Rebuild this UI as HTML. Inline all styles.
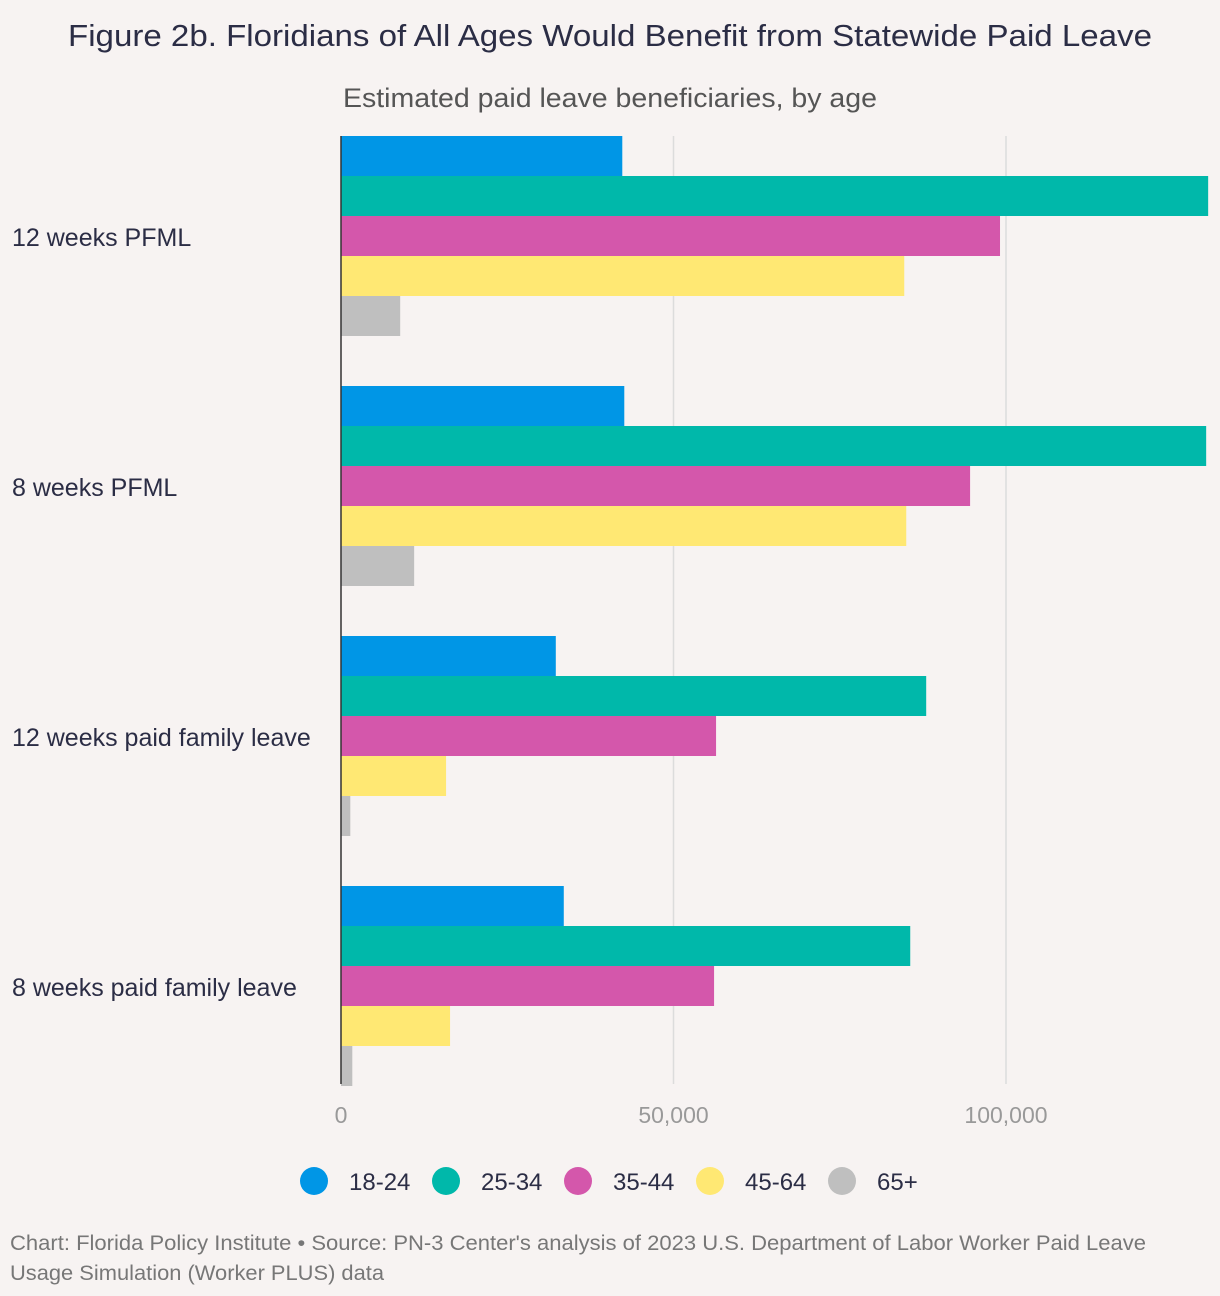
<!DOCTYPE html>
<html><head><meta charset="utf-8"><style>
body{margin:0;background:#f7f3f2;font-family:"Liberation Sans",sans-serif;}
svg{display:block}
</style></head><body>
<svg id="c" width="1220" height="1296">
<text x="68" y="46" font-size="31" textLength="1084" lengthAdjust="spacingAndGlyphs" fill="#2b2d45">Figure 2b. Floridians of All Ages Would Benefit from Statewide Paid Leave</text>
<text x="343" y="107" font-size="27" textLength="534" lengthAdjust="spacingAndGlyphs" fill="#555">Estimated paid leave beneficiaries, by age</text>
<g id="grid"></g><g id="bars"></g><g id="cats"></g><g id="ticks"></g><g id="legend"></g>
<line x1="341" y1="136" x2="341" y2="1084" stroke="#333" stroke-width="1.5"/>
<text x="10" y="1250" font-size="21" textLength="1136" lengthAdjust="spacingAndGlyphs" fill="#777">Chart: Florida Policy Institute • Source: PN-3 Center's analysis of 2023 U.S. Department of Labor Worker Paid Leave</text>
<text x="10" y="1280" font-size="21" textLength="374" lengthAdjust="spacingAndGlyphs" fill="#777">Usage Simulation (Worker PLUS) data</text>
</svg>
<script>
const categories=["12 weeks PFML","8 weeks PFML","12 weeks paid family leave","8 weeks paid family leave"];
const seriesNames=["18-24","25-34","35-44","45-64","65+"];
const s1824=[42300,42600,32300,33500];
const s2534=[130400,130100,88000,85600];
const s3544=[99100,94600,56400,56100];
const s4564=[84700,85000,15800,16400];
const s65=[8900,11000,1400,1700];
const tickValues=[0,50000,100000];
const tickLabels=["0","50,000","100,000"];
const colors=["#0096e6","#00b8aa","#d457ab","#ffe873","#bfbfbf"];
const series=[s1824,s2534,s3544,s4564,s65];
const NS="http://www.w3.org/2000/svg";
const x=v=>341+v*(665/100000);
const groupY=i=>136+i*250;
function mk(t,a,p){const e=document.createElementNS(NS,t);for(const k in a)e.setAttribute(k,a[k]);p.appendChild(e);return e;}
const g=document.getElementById('grid'),b=document.getElementById('bars'),c=document.getElementById('cats'),tk=document.getElementById('ticks'),lg=document.getElementById('legend');
tickValues.forEach((v,i)=>{
 if(v>0){const l=mk('line',{x1:x(v),x2:x(v),y1:136,y2:1084,stroke:'#dcdcdc','stroke-width':1.5},g);
 
 }
 const t=mk('text',{x:x(v),y:1123,'text-anchor':'middle','font-size':23,fill:'#999'},tk);t.textContent=tickLabels[i];
 
 
});
categories.forEach((cat,i)=>{
 const t=mk('text',{x:12,y:groupY(i)+110,'font-size':25,fill:'#2b2d45'},c);t.textContent=cat;
 
 
 series.forEach((s,j)=>{
  const r=mk('rect',{x:341,y:groupY(i)+j*40,width:x(s[i])-341,height:40,fill:colors[j]},b);
  
  
 });
});
seriesNames.forEach((n,j)=>{
 const cx=314+j*132;
 const ci=mk('circle',{cx:cx,cy:1181,r:14,fill:colors[j]},lg);
 
 
 const t=mk('text',{x:cx+35,y:1190,'font-size':24,fill:'#2b2d45'},lg);t.textContent=n;
 
 
});
</script>
</body></html>
